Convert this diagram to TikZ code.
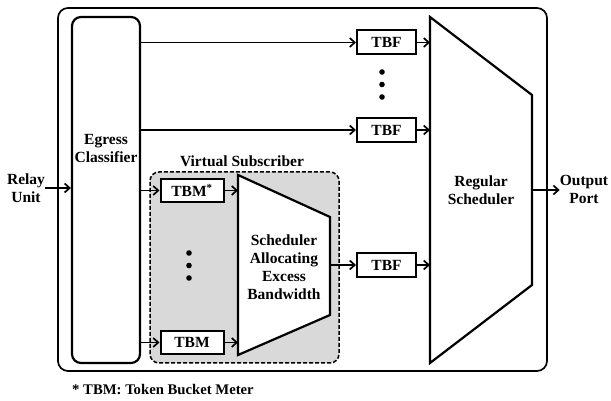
\documentclass[tikz,border=0pt]{standalone}
\usepackage{fontspec}
\setmainfont{Liberation Serif}
\usetikzlibrary{arrows.meta}

\tikzset{
	box/.style={draw, line width=2pt, fill=white, minimum width=59pt, minimum height=24pt, inner sep=0pt},
	link/.style={line width=1.7pt, -{Straight Barb[length=5pt, width=9pt]}},
	lbl/.style={align=center, inner sep=0pt}
}

\begin{document}
\begin{tikzpicture}[x=1pt, y=1pt, font=\fontsize{15.5}{18}\selectfont\bfseries]
		\useasboundingbox (0, 0) rectangle (611, 401);
		\draw[line width=1.7pt, rounded corners=10pt] (58, 30) rectangle (547, 393);
	
		% egress classifier
		\node[draw, line width=2.2pt, rounded corners=9pt, minimum width=68pt, minimum height=346pt] (cls) at (106, 211) {};
		\node[lbl] at (106, 252) {Egress\\Classifier};
	
		% virtual subscriber
		\draw[line width=1.5pt, dash pattern=on 4pt off 2pt, rounded corners=9pt, fill=gray!30] (150, 38) rectangle (339, 229);
		\node[lbl] at (242, 240) {Virtual Subscriber};
		\node[box, minimum width=63pt, minimum height=23pt] (tbma) at (192, 210.5) {TBM\textsuperscript{*}};
		\node[box, minimum width=63pt, minimum height=23pt] (tbmb) at (192, 58.5) {TBM};
		\draw[line width=2.2pt, fill=white] (238, 226) -- (330, 184) -- (330, 86) -- (238, 46) -- cycle;
		\coordinate (ea) at (238, 136);
		\coordinate (eb) at (330, 136);
		\node[lbl] at (284, 134) {Scheduler\\Allocating\\Excess\\Bandwidth};
	
		% regular scheduler
		\draw[line width=2.2pt] (430, 384) -- (532, 306) -- (532, 116) -- (430, 38) -- cycle;
		\coordinate (ra) at (430, 211);
		\coordinate (rb) at (532, 211);
		\node[lbl] at (481, 211) {Regular\\Scheduler};
	
		% token bucket filters
		\node[box] (tbf1) at (386.5, 358.5) {TBF};
		\node[box] (tbf2) at (386.5, 271) {TBF};
		\node[box] (tbf3) at (386.5, 136) {TBF};
	
		\foreach \y in {329, 316.5, 304} {
			\fill (382, \y) circle[radius=2.8];
		}
		\foreach \y in {148, 135.5, 123} {
			\fill (189, \y) circle[radius=2.8];
		}
	
		\node[lbl] (relay) at (26, 213) {Relay\\Unit};
		\node[lbl] (out) at (584, 212) {Output\\Port};
	
		\draw[link] (relay.east) -- (cls.west |- relay.east);
		\draw[link] (cls.east |- tbf1) -- (tbf1);
		\draw[link] (cls.east |- tbf2) -- (tbf2);
		\draw[link] (cls.east |- tbma) -- (tbma);
		\draw[link] (cls.east |- tbmb) -- (tbmb);
		\draw[link] (tbma) -- (tbma -| ea);
		\draw[link] (tbmb) -- (tbmb -| ea);
		\draw[link] (eb) -- (tbf3);
		\draw[link] (tbf1) -- (tbf1 -| ra);
		\draw[link] (tbf2) -- (tbf2 -| ra);
		\draw[link] (tbf3) -- (tbf3 -| ra);
		\draw[link] (rb) -- (out.west |- rb);
	
		\node[anchor=base west, inner sep=0pt, font=\fontsize{14.7}{18}\selectfont\bfseries] at (72, 6) {* TBM: Token Bucket Meter};
	\end{tikzpicture}
\end{document}
